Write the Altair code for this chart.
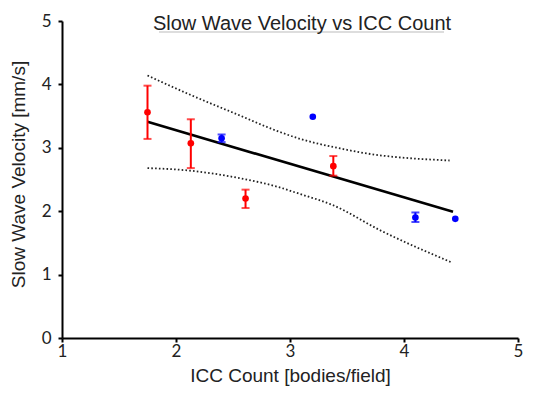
import altair as alt
import pandas as pd

# Data points (ICC count vs slow-wave velocity)
red_x = [1.75, 2.13, 2.61, 3.38]
red_y = [3.56, 3.07, 2.20, 2.71]
red_lo = [3.14, 2.68, 2.05, 2.56]
red_hi = [3.98, 3.45, 2.34, 2.87]

blue_x = [2.40, 3.20, 4.10, 4.45]
blue_y = [3.15, 3.49, 1.90, 1.88]
blue_lo = [3.09, None, 1.83, None]
blue_hi = [3.21, None, 1.98, None]

# Regression line endpoints
fit_x = [1.75, 4.43]
fit_y = [3.41, 1.99]

# Confidence bands
upper_x = [1.75, 2.12, 2.56, 2.88, 3.09, 3.44, 3.61, 4.40]
upper_y = [4.14, 3.84, 3.51, 3.27, 3.14, 2.99, 2.93, 2.80]
lower_x = [1.75, 2.12, 2.56, 2.90, 3.09, 3.37, 3.79, 4.42]
lower_y = [2.68, 2.64, 2.52, 2.38, 2.27, 2.10, 1.70, 1.19]

FONT = "Liberation Sans"
TICKFONT = "Lato"

pts = pd.DataFrame({
    "x": red_x + blue_x,
    "y": red_y + blue_y,
    "lo": red_lo + blue_lo,
    "hi": red_hi + blue_hi,
    "grp": ["red"] * len(red_x) + ["blue"] * len(blue_x),
})
err = pts.dropna(subset=["lo", "hi"])
fit = pd.DataFrame({"x": fit_x, "y": fit_y})
up = pd.DataFrame({"x": upper_x, "y": upper_y})
lowdf = pd.DataFrame({"x": lower_x, "y": lower_y})

xscale = alt.Scale(domain=[1, 5], nice=False, zero=False)
yscale = alt.Scale(domain=[0, 5], nice=False)
color = alt.Color("grp:N", scale=alt.Scale(domain=["red", "blue"], range=["#ff0000", "#0000ff"]), legend=None)

xaxis = alt.Axis(values=[1, 2, 3, 4, 5], format="d", title="ICC Count [bodies/field]", grid=False,
                 domainColor="black", domainWidth=2, tickColor="black", tickWidth=2, tickSize=4,
                 labelFont=TICKFONT, labelFontSize=17, labelColor="#222", labelPadding=1,
                 titleFont=FONT, titleFontSize=19, titleFontWeight="normal", titleColor="#222",
                 titleBaseline="alphabetic", titleY=43, labelFlush=False)
yaxis = alt.Axis(values=[0, 1, 2, 3, 4, 5], format="d", title="Slow Wave Velocity [mm/s]", grid=False,
                 domainColor="black", domainWidth=2, tickColor="black", tickWidth=2, tickSize=4,
                 labelFont=TICKFONT, labelFontSize=17, labelColor="#222", labelPadding=7,
                 titleFont=FONT, titleFontSize=19, titleFontWeight="normal", titleColor="#222",
                 titleBaseline="alphabetic", titleX=-38, titleY=153, titleAngle=-90, labelFlush=False)

X = alt.X("x:Q", scale=xscale, axis=xaxis)
Y = alt.Y("y:Q", scale=yscale, axis=yaxis)

band_up = alt.Chart(up).mark_line(color="#222", strokeWidth=1.8, strokeDash=[1.6, 2.2], interpolate="monotone").encode(x=X, y=Y)
band_lo = alt.Chart(lowdf).mark_line(color="#222", strokeWidth=1.8, strokeDash=[1.6, 2.2], interpolate="monotone").encode(x=X, y=Y)
fitline = alt.Chart(fit).mark_line(color="black", strokeWidth=2.6).encode(x=X, y=Y)

bars = alt.Chart(err).mark_rule(strokeWidth=2).encode(x="x:Q", y="lo:Q", y2="hi:Q", color=color)
cap_top = alt.Chart(err).mark_tick(orient="horizontal", thickness=2, size=8).encode(x="x:Q", y="hi:Q", color=color)
cap_bot = alt.Chart(err).mark_tick(orient="horizontal", thickness=2, size=8).encode(x="x:Q", y="lo:Q", color=color)
dots = alt.Chart(pts).mark_circle(size=44, opacity=1).encode(x=X, y=Y, color=color)

title = alt.Chart(pd.DataFrame({"t": ["Slow Wave Velocity vs ICC Count"]})).mark_text(
    font=FONT, fontSize=20, color="#222", align="center", baseline="alphabetic"
).encode(x=alt.value(240), y=alt.value(8.6), text="t:N")
underline = alt.Chart(pd.DataFrame({"a": [0]})).mark_rule(color="#bbb", strokeWidth=1).encode(
    x=alt.value(97), x2=alt.value(382), y=alt.value(11)
)

chart = alt.layer(band_up, band_lo, fitline, bars, cap_top, cap_bot, dots, underline, title).properties(
    width=456, height=317,
    padding={"left": 62, "top": 21, "right": 24, "bottom": 58},
    autosize="none",
    background="white",
).configure_view(stroke=None)

chart.save("out.html", embed_options={"renderer": "svg", "actions": False})
